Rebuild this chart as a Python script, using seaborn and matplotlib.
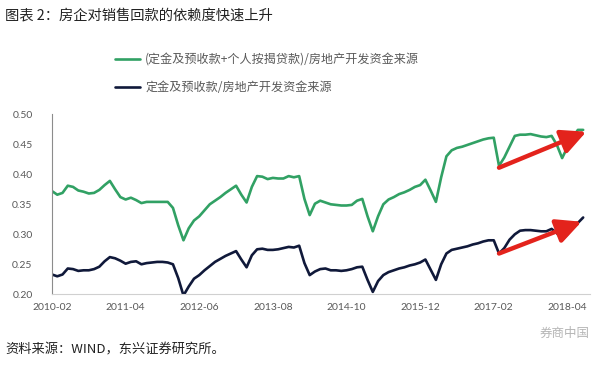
import numpy as np
import pandas as pd
import matplotlib
matplotlib.use("Agg")
import matplotlib.pyplot as plt
import seaborn as sns

# 月度数据, 2010-02 起
green_vals = [0.372, 0.366, 0.369, 0.381, 0.379, 0.373, 0.371, 0.368, 0.369, 0.374,
              0.382, 0.389, 0.375, 0.362, 0.358, 0.361, 0.357, 0.352, 0.354, 0.354,
              0.354, 0.354, 0.354, 0.344, 0.315, 0.290, 0.310, 0.323, 0.330, 0.340,
              0.350, 0.356, 0.362, 0.369, 0.375, 0.381, 0.366, 0.353, 0.379, 0.397,
              0.396, 0.392, 0.394, 0.393, 0.393, 0.397, 0.395, 0.397, 0.359, 0.332,
              0.351, 0.356, 0.353, 0.350, 0.349, 0.348, 0.348, 0.349, 0.356, 0.359,
              0.330, 0.305, 0.330, 0.350, 0.358, 0.362, 0.367, 0.370, 0.374, 0.379,
              0.382, 0.391, 0.373, 0.354, 0.395, 0.430, 0.440, 0.444, 0.446, 0.449,
              0.452, 0.455, 0.458, 0.460, 0.461, 0.414, 0.428, 0.446, 0.464, 0.466,
              0.466, 0.467, 0.465, 0.463, 0.462, 0.464, 0.449, 0.427, 0.445, 0.462,
              0.474, 0.474]
navy_vals = [0.233, 0.230, 0.233, 0.243, 0.242, 0.239, 0.240, 0.240, 0.242, 0.246,
             0.255, 0.262, 0.260, 0.256, 0.251, 0.254, 0.255, 0.250, 0.252, 0.253,
             0.254, 0.254, 0.253, 0.250, 0.227, 0.198, 0.213, 0.226, 0.232, 0.240,
             0.247, 0.254, 0.259, 0.264, 0.268, 0.272, 0.258, 0.245, 0.265, 0.275,
             0.276, 0.274, 0.274, 0.275, 0.277, 0.279, 0.278, 0.281, 0.252, 0.232,
             0.238, 0.242, 0.243, 0.240, 0.240, 0.239, 0.240, 0.242, 0.245, 0.246,
             0.224, 0.204, 0.222, 0.232, 0.237, 0.240, 0.243, 0.245, 0.248, 0.250,
             0.253, 0.258, 0.241, 0.224, 0.250, 0.268, 0.274, 0.276, 0.278, 0.280,
             0.283, 0.285, 0.288, 0.290, 0.290, 0.268, 0.277, 0.291, 0.300, 0.306,
             0.307, 0.307, 0.306, 0.305, 0.305, 0.309, 0.302, 0.291, 0.300, 0.311,
             0.319, 0.328]
tick_labels = ["2010-02", "2011-04", "2012-06", "2013-08", "2014-10", "2015-12", "2017-02", "2018-04"]
y_ticks = [0.20, 0.25, 0.30, 0.35, 0.40, 0.45, 0.50]

label_green = "(定金及预收款+个人按揭贷款)/房地产开发资金来源"
label_navy = "定金及预收款/房地产开发资金来源"

df = pd.DataFrame({"idx": np.arange(len(green_vals)), "green": green_vals, "navy": navy_vals})

sns.set_style("white")
plt.rcParams['font.family'] = ['Noto Sans CJK SC', 'DejaVu Sans']

fig = plt.figure(figsize=(6, 3.65), dpi=100)
ax = fig.add_axes([52 / 600, 1 - 294.3 / 365, 538 / 600, 180 / 365])

green_c = "#31a164"
navy_c = "#10193a"
sns.lineplot(data=df, x="idx", y="green", color=green_c, lw=1.9, ax=ax, label=label_green)
sns.lineplot(data=df, x="idx", y="navy", color=navy_c, lw=1.9, ax=ax, label=label_navy)

ax.set_xlim(0, 102.3)
ax.set_ylim(0.20, 0.50)
ax.set_xticks(np.arange(len(tick_labels)) * 14)
ax.set_xticklabels(tick_labels)
ax.set_yticks(y_ticks)
ax.set_yticklabels([f"{v:.2f}" for v in y_ticks])
ax.set_xlabel("")
ax.set_ylabel("")
ax.tick_params(axis="x", direction="out", length=3, color="#bfbfbf", labelsize=7.5,
               labelcolor="#595959", pad=3)
ax.tick_params(axis="y", direction="in", length=3, color="#808080", labelsize=7.5,
               labelcolor="#595959", pad=14)
for lab in ax.get_xticklabels() + ax.get_yticklabels():
    lab.set_family(["Lato", "DejaVu Sans"])
sns.despine(ax=ax)
ax.spines["left"].set_color("#8c8c8c")
ax.spines["bottom"].set_color("#d0d0d0")

# 红色箭头
red_c = "#e3231c"
arrow_style = "-|>,head_length=0.65,head_width=0.32"
ax.annotate("", xy=(101.6, 0.471), xytext=(85, green_vals[85] - 0.003),
            arrowprops=dict(arrowstyle=arrow_style, color=red_c, lw=3.2, mutation_scale=23,
                            shrinkA=0, shrinkB=0))
ax.annotate("", xy=(100.7, 0.321), xytext=(85, navy_vals[85]),
            arrowprops=dict(arrowstyle=arrow_style, color=red_c, lw=3.2, mutation_scale=23,
                            shrinkA=0, shrinkB=0))

ax.get_legend().remove()
handles, labels = ax.get_legend_handles_labels()
leg = fig.legend(handles, labels, loc="center left", bbox_to_anchor=(115 / 600, 1 - 73.5 / 365),
                 frameon=False, fontsize=8.7, handlelength=2.1, handletextpad=0.4,
                 labelspacing=1.2, borderpad=0, borderaxespad=0)
for t in leg.get_texts():
    t.set_color("#595959")

fig.text(5 / 600, 1 - 16 / 365, "图表 2：房企对销售回款的依赖度快速上升", fontsize=10.3,
         color="#222222", ha="left", va="center")
fig.text(5 / 600, 1 - 350 / 365, "资料来源：WIND，东兴证券研究所。", fontsize=9.5,
         color="#222222", ha="left", va="center")
fig.text(590 / 600, 1 - 333 / 365, "券商中国", fontsize=9, color="#b5b5b5",
         ha="right", va="center")

fig.savefig("out.png", dpi=100)
